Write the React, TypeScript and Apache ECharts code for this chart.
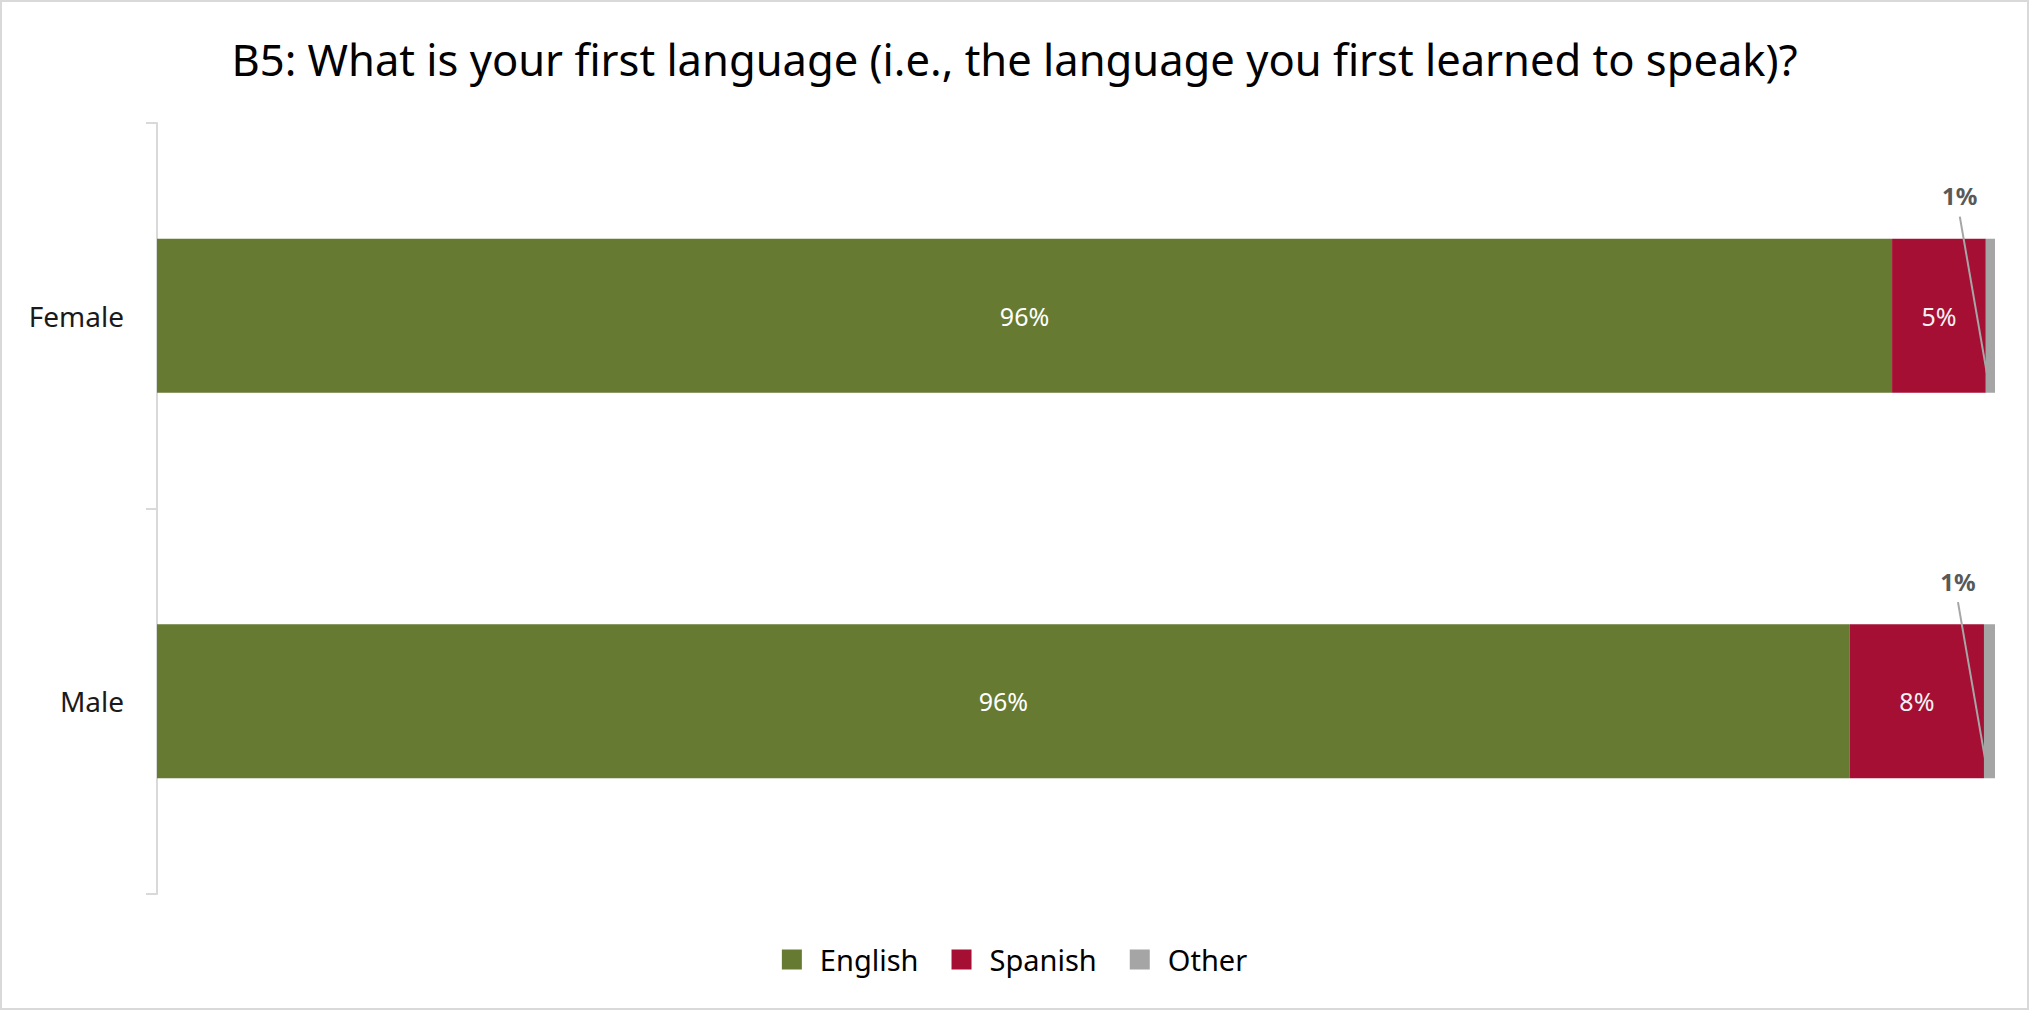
import React, { useEffect, useRef } from "react";
import * as echarts from "echarts";

const titleText = "B5: What is your first language (i.e., the language you first learned to speak)?";
const categories = ["Female", "Male"];
const seriesNames = ["English", "Spanish", "Other"];
// bar shares
const englishShare = [94.4, 92.1];
const spanishShare = [5.1, 7.3];
const otherShare = [0.5, 0.6];
// printed data labels
const englishLabels = ["96%", "96%"];
const spanishLabels = ["5%", "8%"];
const otherLabels = ["1%", "1%"];

const colors = ["#667a32", "#a50f34", "#a5a5a5"];
const FONT = "'Noto Sans', 'Open Sans', sans-serif";

export default function App() {
  const ref = useRef<HTMLDivElement>(null);
  useEffect(() => {
    document.body.style.margin = "0";
    if (!ref.current) return;
    const chart = echarts.init(ref.current, undefined, { renderer: "svg" });
    const otherStart = categories.map((_, i) => englishShare[i] + spanishShare[i]);
    chart.setOption({
      animation: false,
      backgroundColor: "#ffffff",
      textStyle: { fontFamily: FONT },
      title: {
        text: titleText,
        left: "center",
        top: 37,
        padding: 0,
        textStyle: { fontFamily: FONT, fontSize: 43.5, fontWeight: "normal", color: "#000000" },
      },
      legend: {
        data: seriesNames,
        top: 945,
        left: "center",
        padding: 0,
        icon: "rect",
        itemWidth: 20,
        itemHeight: 20,
        itemGap: 33,
        textStyle: { fontFamily: FONT, fontSize: 29, color: "#000000", padding: [0, 0, 0, 13] },
      },
      grid: { left: 157, right: 34, top: 123, bottom: 116, containLabel: false },
      xAxis: { type: "value", min: 0, max: 100, show: false },
      yAxis: {
        type: "category",
        data: categories,
        inverse: true,
        axisLine: { show: true, lineStyle: { color: "#d9d9d9", width: 2 } },
        axisTick: { show: true, length: 11, lineStyle: { color: "#d9d9d9", width: 2 } },
        axisLabel: { margin: 33, fontFamily: FONT, fontSize: 28, color: "#1a1a1a" },
        splitLine: { show: false },
      },
      series: [
        {
          name: "English",
          type: "bar",
          stack: "total",
          barWidth: "40%",
          data: englishShare,
          itemStyle: { color: colors[0] },
          label: {
            show: true,
            position: "inside",
            fontFamily: FONT,
            fontSize: 25,
            color: "#ffffff",
            formatter: (p: any) => englishLabels[p.dataIndex],
          },
        },
        {
          name: "Spanish",
          type: "bar",
          stack: "total",
          barWidth: "40%",
          data: spanishShare,
          itemStyle: { color: colors[1] },
          label: {
            show: true,
            position: "inside",
            fontFamily: FONT,
            fontSize: 25,
            color: "#f2f2f2",
            formatter: (p: any) => spanishLabels[p.dataIndex],
          },
        },
        {
          name: "Other",
          type: "bar",
          stack: "total",
          barWidth: "40%",
          data: otherShare,
          itemStyle: { color: colors[2] },
        },
        {
          name: "OtherLabel",
          type: "custom",
          clip: false,
          silent: true,
          z: 20,
          encode: { x: 0, y: 1 },
          data: categories.map((_, i) => [otherStart[i], i]),
          renderItem: (params: any, api: any) => {
            const pt = api.coord([api.value(0), api.value(1)]);
            const band = api.size([0, 1])[1];
            const barH = band * 0.4;
            const top = pt[1] - barH / 2;
            const bottom = pt[1] + barH / 2;
            const lx = pt[0] - 26;
            return {
              type: "group",
              z2: 100,
              children: [
                {
                  type: "line",
                  z2: 100,
                  shape: { x1: lx, y1: top - 22, x2: pt[0] + 1, y2: bottom - 20 },
                  style: { stroke: "#a6a6a6", lineWidth: 2, fill: null },
                },
                {
                  type: "text",
                  z2: 100,
                  x: lx,
                  y: top - 43,
                  style: {
                    text: otherLabels[params.dataIndex],
                    fontFamily: FONT,
                    fontSize: 24,
                    fontWeight: "bold",
                    fill: "#595959",
                    align: "center",
                    verticalAlign: "middle",
                  },
                },
              ],
            };
          },
        },
      ],
    });
    return () => chart.dispose();
  }, []);
  return (
    <div
      style={{
        position: "absolute",
        left: 0,
        top: 0,
        width: 2029,
        height: 1010,
        boxSizing: "border-box",
        border: "2px solid #d9d9d9",
        overflow: "hidden",
      }}
    >
      <div ref={ref} style={{ position: "absolute", left: -2, top: -2, width: 2029, height: 1010 }} />
    </div>
  );
}
